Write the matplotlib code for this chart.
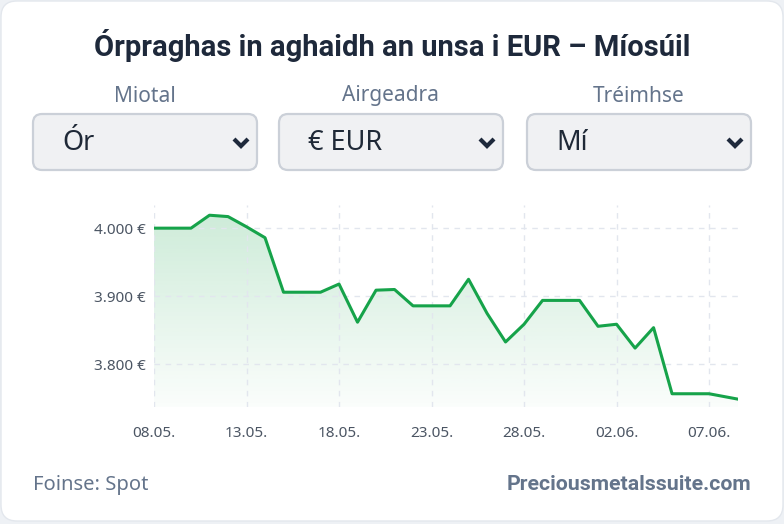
import matplotlib
matplotlib.use("Agg")
import matplotlib.pyplot as plt
import numpy as np
from matplotlib.patches import FancyBboxPatch
from matplotlib.path import Path

plt.rcParams['font.family'] = ['Noto Sans', 'DejaVu Sans']
BOLD = ['Roboto', 'DejaVu Sans']

# gold price per ounce in EUR, daily from 08.05. (day 0), last point part-way through 08.06.
days = [0, 1, 2, 3, 4, 5, 6, 7, 8, 9, 10, 11, 12, 13, 14, 15, 16, 17, 18, 19,
        20, 21, 22, 23, 24, 25, 26, 27, 28, 29, 30, 31.58]
price = [4000, 4000, 4000, 4019, 4017, 4002, 3986, 3906, 3906, 3906, 3918, 3862,
         3909, 3910, 3886, 3886, 3886, 3925, 3875, 3833, 3859, 3894, 3894, 3894,
         3856, 3859, 3824, 3854, 3757, 3757, 3757, 3749]
tick_days = [0, 5, 10, 15, 20, 25, 30]
tick_labels = ['08.05.', '13.05.', '18.05.', '23.05.', '28.05.', '02.06.', '07.06.']
y_ticks = [3800, 3900, 4000]

title = 'Órpraghas in aghaidh an unsa i EUR – Míosúil'
selects = [('Miotal', 'Ór'), ('Airgeadra', '€ EUR'), ('Tréimhse', 'Mí')]

W, H = 784, 524
fig = plt.figure(figsize=(W / 100, H / 100), dpi=100)
fig.patch.set_facecolor('#eef1f5')

# background layer in pixel coordinates
bg = fig.add_axes([0, 0, 1, 1])
bg.set_xlim(0, W)
bg.set_ylim(H, 0)
bg.axis('off')
bg.add_patch(FancyBboxPatch((1, 1), W - 2, H - 4, boxstyle='round,pad=0,rounding_size=16',
                            fc='white', ec='#e3e7ed', lw=1))

bg.text(W / 2, 46, title, ha='center', va='center', fontsize=21,
        fontweight='bold', family=BOLD, color='#1e293b')

box_x = [33, 279, 527]
box_w = 224
for (lab, val), x0 in zip(selects, box_x):
    bg.text(x0 + box_w / 2, 96, lab, ha='center', va='center', fontsize=15, color='#64748b')
    bg.add_patch(FancyBboxPatch((x0, 114), box_w, 56, boxstyle='round,pad=0,rounding_size=9',
                                fc='#f0f1f3', ec='#cbd0d8', lw=1.6))
    bg.text(x0 + 29, 143, val, ha='left', va='center', fontsize=19.5, color='#1f2937')
    cx = x0 + 208
    bg.plot([cx - 7, cx, cx + 7], [139, 146, 139], color='#1e293b', lw=3,
            solid_capstyle='butt', solid_joinstyle='miter')

bg.text(33, 485, 'Foinse: Spot', ha='left', va='center', fontsize=14.5, color='#64748b')
bg.text(751, 485, 'Preciousmetalssuite.com', ha='right', va='center', fontsize=15.3,
        fontweight='bold', family=BOLD, color='#64748b')

# chart
y_lo, y_hi = 3738, 4034
ax = fig.add_axes([154 / W, (H - 406.7) / H, (738.3 - 154) / W, (406.7 - 205) / H])
ax.set_facecolor('none')
ax.set_xlim(0, days[-1])
ax.set_ylim(y_lo, y_hi)

grad = np.linspace(1, 0, 256).reshape(-1, 1)
rgba = np.zeros((256, 1, 4))
rgba[..., 0] = 22 / 255
rgba[..., 1] = 163 / 255
rgba[..., 2] = 74 / 255
rgba[..., 3] = 0.02 + 0.2 * grad
im = ax.imshow(rgba, extent=[0, days[-1], y_lo, y_hi], aspect='auto', origin='upper', zorder=1)
verts = [(days[0], y_lo)] + list(zip(days, price)) + [(days[-1], y_lo), (days[0], y_lo)]
im.set_clip_path(Path(verts), transform=ax.transData)

ax.plot(days, price, color='#16a34a', lw=2.2, zorder=3)

ax.set_xticks(tick_days)
ax.set_xticklabels(tick_labels)
ax.set_yticks(y_ticks)
ax.set_yticklabels([f'{v:,}'.replace(',', '.') + ' €' for v in y_ticks])
ax.tick_params(length=0, labelsize=11, colors='#4b5563')
ax.tick_params(axis='x', pad=14)
ax.tick_params(axis='y', pad=6)
ax.grid(True, color='#e2e6ee', lw=1, linestyle=(0, (4, 4)), zorder=0)
for s in ax.spines.values():
    s.set_visible(False)

fig.savefig('out.png', dpi=100, facecolor=fig.get_facecolor())
